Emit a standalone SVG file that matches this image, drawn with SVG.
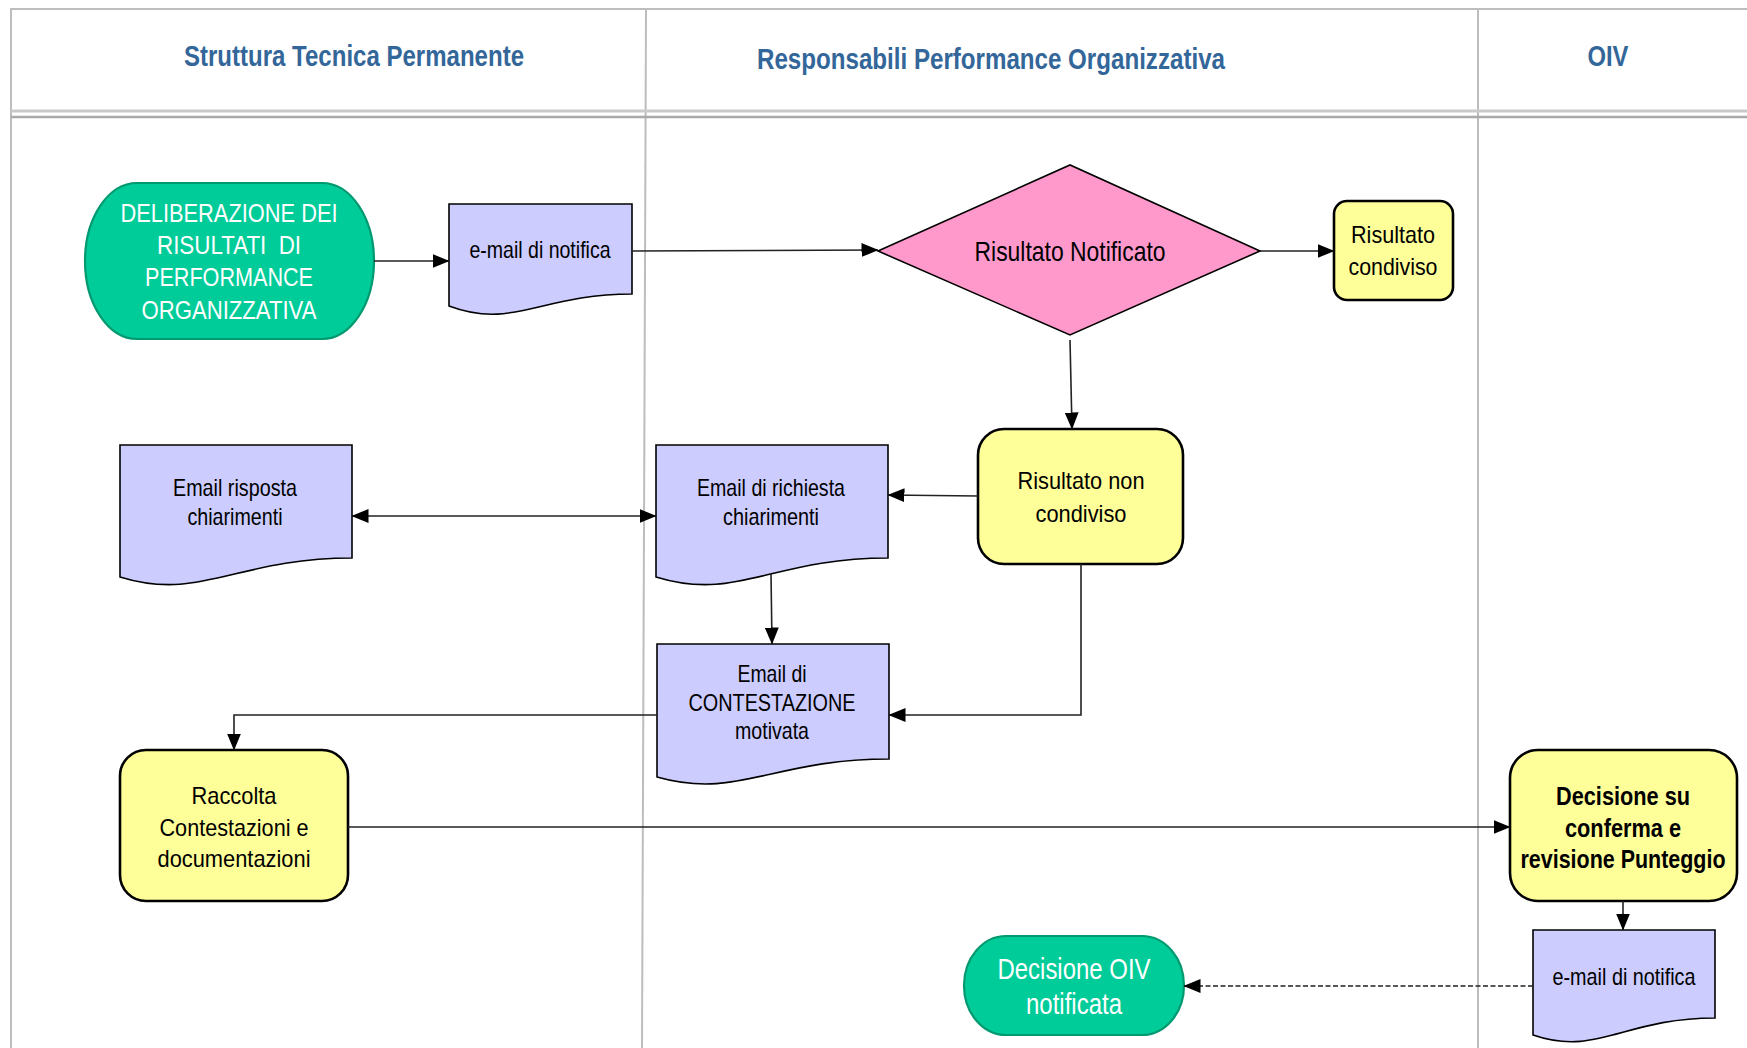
<svg xmlns="http://www.w3.org/2000/svg" width="1747" height="1048" viewBox="0 0 1747 1048">
<style>
text{font-family:"Liberation Sans Narrow","Liberation Sans",Arial,sans-serif;text-anchor:middle;fill:#000}
.hdr{font-size:29px;font-weight:bold;fill:#336699}
.t{font-size:24px}
.w{fill:#fff}
.b{font-weight:bold;font-size:26px}
.lane{stroke:#bdbdbd;stroke-width:2;fill:none}
.doc{fill:#ccccff;stroke:#000;stroke-width:1.6}
.proc{fill:#ffff99;stroke:#000;stroke-width:2.6}
.term{fill:#00cc99;stroke:#009970;stroke-width:2.2}
.dec{fill:#ff99cc;stroke:#000;stroke-width:1.6}
.c{stroke:#222;stroke-width:1.6;fill:none}
.dash{stroke-dasharray:5 2.5;stroke-width:1.4}
</style>
<defs>
<marker id="ah" markerUnits="userSpaceOnUse" markerWidth="17" markerHeight="14" viewBox="0 0 17 14" refX="16.5" refY="7" orient="auto-start-reverse">
<path d="M0,0 L17,7 L0,14 z" fill="#000"/>
</marker>
</defs>
<rect x="0" y="0" width="1747" height="1048" fill="#fff"/>
<g id="lanes">
<line class="lane" x1="10" y1="9" x2="1747" y2="9"/>
<line class="lane" x1="11" y1="9" x2="11" y2="1048"/>
<line class="lane" x1="646" y1="9" x2="642" y2="1048"/>
<line class="lane" x1="1478" y1="9" x2="1478" y2="1048"/>
<line x1="11" y1="111" x2="1747" y2="111" stroke="#c9c9c9" stroke-width="3"/>
<line x1="11" y1="117" x2="1747" y2="117" stroke="#a9a9a9" stroke-width="2.5"/>
<text class="hdr" x="354" y="66" textLength="340" lengthAdjust="spacingAndGlyphs">Struttura Tecnica Permanente</text>
<text class="hdr" x="991" y="69" textLength="468" lengthAdjust="spacingAndGlyphs">Responsabili Performance Organizzativa</text>
<text class="hdr" x="1608" y="66" textLength="41" lengthAdjust="spacingAndGlyphs">OIV</text>
</g>
<g id="n_deliberazione">
<rect class="term" x="85" y="183" width="289" height="156" rx="52" ry="78"/>
<text class="t w" style="font-size:26px" x="229" y="222" textLength="217" lengthAdjust="spacingAndGlyphs">DELIBERAZIONE DEI</text>
<text class="t w" style="font-size:26px" x="229" y="254" textLength="144" lengthAdjust="spacingAndGlyphs" xml:space="preserve">RISULTATI  DI</text>
<text class="t w" style="font-size:26px" x="229" y="286" textLength="168" lengthAdjust="spacingAndGlyphs">PERFORMANCE</text>
<text class="t w" style="font-size:26px" x="229" y="319" textLength="175" lengthAdjust="spacingAndGlyphs">ORGANIZZATIVA</text>
</g>
<g id="n_email_notifica1">
<path class="doc" d="M449,204 H632 V294 C540.5,294 513,330 449,306 Z"/>
<text class="t" x="540" y="258" textLength="141" lengthAdjust="spacingAndGlyphs">e-mail di notifica</text>
</g>
<g id="n_risultato_notificato">
<polygon class="dec" points="878,251 1070,165 1260,251 1070,335"/>
<text class="t" style="font-size:28px" x="1070" y="261" textLength="191" lengthAdjust="spacingAndGlyphs">Risultato Notificato</text>
</g>
<g id="n_risultato_condiviso">
<rect class="proc" x="1334" y="201" width="119" height="99" rx="13"/>
<text class="t" x="1393" y="243" textLength="84" lengthAdjust="spacingAndGlyphs">Risultato</text>
<text class="t" x="1393" y="275" textLength="89" lengthAdjust="spacingAndGlyphs">condiviso</text>
</g>
<g id="n_email_risposta">
<path class="doc" d="M120,445 H352 V558 C236,558 201,602 120,577 Z"/>
<text class="t" x="235" y="496" textLength="124" lengthAdjust="spacingAndGlyphs">Email risposta</text>
<text class="t" x="235" y="525" textLength="95" lengthAdjust="spacingAndGlyphs">chiarimenti</text>
</g>
<g id="n_email_richiesta">
<path class="doc" d="M656,445 H888 V558 C772,558 737,602 656,577 Z"/>
<text class="t" x="771" y="496" textLength="148" lengthAdjust="spacingAndGlyphs">Email di richiesta</text>
<text class="t" x="771" y="525" textLength="96" lengthAdjust="spacingAndGlyphs">chiarimenti</text>
</g>
<g id="n_risultato_non_condiviso">
<rect class="proc" x="978" y="429" width="205" height="135" rx="26"/>
<text class="t" x="1081" y="489" textLength="127" lengthAdjust="spacingAndGlyphs">Risultato non</text>
<text class="t" x="1081" y="522" textLength="91" lengthAdjust="spacingAndGlyphs">condiviso</text>
</g>
<g id="n_email_contestazione">
<path class="doc" d="M657,644 H889 V759 C773,759 738,800 657,777 Z"/>
<text class="t" x="772" y="682" textLength="69" lengthAdjust="spacingAndGlyphs">Email di</text>
<text class="t" x="772" y="711" textLength="167" lengthAdjust="spacingAndGlyphs">CONTESTAZIONE</text>
<text class="t" x="772" y="739" textLength="74" lengthAdjust="spacingAndGlyphs">motivata</text>
</g>
<g id="n_raccolta">
<rect class="proc" x="120" y="750" width="228" height="151" rx="26"/>
<text class="t" x="234" y="804" textLength="85" lengthAdjust="spacingAndGlyphs">Raccolta</text>
<text class="t" x="234" y="836" textLength="149" lengthAdjust="spacingAndGlyphs">Contestazioni e</text>
<text class="t" x="234" y="867" textLength="153" lengthAdjust="spacingAndGlyphs">documentazioni</text>
</g>
<g id="n_decisione">
<rect class="proc" x="1510" y="750" width="227" height="151" rx="28"/>
<text class="b" x="1623" y="805" textLength="134" lengthAdjust="spacingAndGlyphs">Decisione su</text>
<text class="b" x="1623" y="837" textLength="116" lengthAdjust="spacingAndGlyphs">conferma e</text>
<text class="b" x="1623" y="868" textLength="205" lengthAdjust="spacingAndGlyphs">revisione Punteggio</text>
</g>
<g id="n_email_notifica2">
<path class="doc" d="M1533,930 H1715 V1018 C1624,1018 1597,1057 1533,1035 Z"/>
<text class="t" x="1624" y="985" textLength="143" lengthAdjust="spacingAndGlyphs">e-mail di notifica</text>
</g>
<g id="n_decisione_oiv">
<rect class="term" x="964" y="936" width="220" height="99" rx="42" ry="49.5"/>
<text class="t w" style="font-size:29px" x="1074" y="979" textLength="153" lengthAdjust="spacingAndGlyphs">Decisione OIV</text>
<text class="t w" style="font-size:29px" x="1074" y="1014" textLength="96" lengthAdjust="spacingAndGlyphs">notificata</text>
</g>
<g id="connectors">
<line class="c" x1="374" y1="261" x2="449" y2="261" marker-end="url(#ah)"/>
<line class="c" x1="632" y1="251" x2="878" y2="250" marker-end="url(#ah)"/>
<line class="c" x1="1260" y1="251" x2="1334" y2="251" marker-end="url(#ah)"/>
<line class="c" x1="1070" y1="340" x2="1072" y2="429" marker-end="url(#ah)"/>
<line class="c" x1="978" y1="496" x2="888" y2="495" marker-end="url(#ah)"/>
<line class="c" x1="352" y1="516" x2="656" y2="516" marker-start="url(#ah)" marker-end="url(#ah)"/>
<line class="c" x1="771" y1="574" x2="772" y2="644" marker-end="url(#ah)"/>
<polyline class="c" points="1081,564 1081,715 889,715" marker-end="url(#ah)"/>
<polyline class="c" points="657,715 234,715 234,750" marker-end="url(#ah)"/>
<line class="c" x1="348" y1="827" x2="1510" y2="827" marker-end="url(#ah)"/>
<line class="c" x1="1623" y1="901" x2="1623" y2="930" marker-end="url(#ah)"/>
<line class="c dash" x1="1533" y1="986" x2="1184" y2="986" marker-end="url(#ah)"/>
</g>
</svg>
